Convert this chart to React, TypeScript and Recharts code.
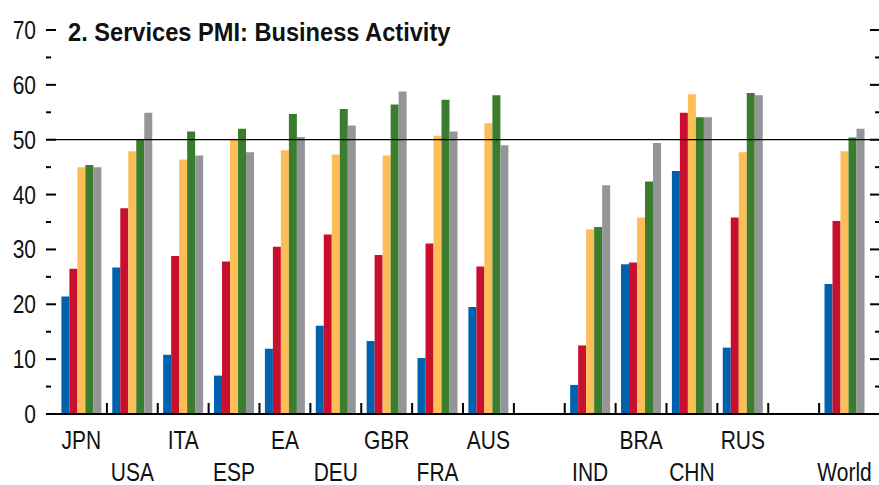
import React from 'react';
import { BarChart, Bar, XAxis, YAxis, ReferenceLine } from 'recharts';

const categories = ['JPN', 'USA', 'ITA', 'ESP', 'EA', 'DEU', 'GBR', 'FRA', 'AUS', 'gap1', 'IND', 'BRA', 'CHN', 'RUS', 'gap2', 'World'];
const tickLabels = ['JPN', 'USA', 'ITA', 'ESP', 'EA', 'DEU', 'GBR', 'FRA', 'AUS', '', 'IND', 'BRA', 'CHN', 'RUS', '', 'World'];
const tickRows = [1, 2, 1, 2, 1, 2, 1, 2, 1, 1, 2, 1, 2, 1, 1, 2];

const series1 = [21.4, 26.7, 10.8, 7.0, 11.9, 16.1, 13.3, 10.2, 19.5, null, 5.3, 27.3, 44.3, 12.1, null, 23.7];
const series2 = [26.5, 37.5, 28.8, 27.8, 30.5, 32.7, 29.0, 31.1, 26.9, null, 12.5, 27.6, 54.9, 35.8, null, 35.2];
const series3 = [45.0, 47.9, 46.4, 50.0, 48.1, 47.3, 47.1, 50.7, 53.0, null, 33.7, 35.8, 58.3, 47.7, null, 47.9];
const series4 = [45.4, 50.0, 51.5, 52.0, 54.7, 55.6, 56.4, 57.3, 58.1, null, 34.1, 42.4, 54.1, 58.5, null, 50.4];
const series5 = [45.0, 54.9, 47.1, 47.7, 50.5, 52.6, 58.8, 51.5, 49.0, null, 41.7, 49.4, 54.1, 58.1, null, 52.0];

const yTicks = [0, 5, 10, 15, 20, 25, 30, 35, 40, 45, 50, 55, 60, 65, 70];
const title = '2. Services PMI: Business Activity';

const colors = ['#0062AE', '#C8102E', '#FDBE57', '#3B7D2E', '#949599'];
const seriesKeys = ['s1', 's2', 's3', 's4', 's5'];
const seriesList = [series1, series2, series3, series4, series5];

const data = categories.map((c, i) => {
  const row: Record<string, any> = { cat: c };
  seriesKeys.forEach((k, j) => { row[k] = seriesList[j][i]; });
  return row;
});

const W = 879;
const H = 485;
const PLOT_LEFT = 46;
const PLOT_RIGHT = 879;
const PAD_L = 10;
const PAD_R = 9;
const AXIS_Y = 414;
const BAND = (PLOT_RIGHT - PLOT_LEFT - PAD_L - PAD_R) / categories.length;
const FONT = "'Liberation Sans', Arial, sans-serif";
const NARROW = 0.84;
const TXT = '#111';

const NarrowText = ({ x, y, anchor, children, size = 25, weight = 'normal', scale = NARROW }: any) => (
  <g transform={`translate(${x},${y}) scale(${scale},1)`}>
    <text x={0} y={0} textAnchor={anchor} fontFamily={FONT} fontSize={size} fontWeight={weight} fill={TXT}>
      {children}
    </text>
  </g>
);

const XTick = (props: any) => {
  const { x, payload, index } = props;
  const i = payload && payload.index != null ? payload.index : index;
  return (
    <g>
      {i > 0 && (
        <line x1={x - BAND / 2} x2={x - BAND / 2} y1={AXIS_Y} y2={AXIS_Y - 11} stroke="#000" strokeWidth={2} />
      )}
      <NarrowText x={x} y={tickRows[i] === 1 ? 449 : 481} anchor="middle">
        {tickLabels[i]}
      </NarrowText>
    </g>
  );
};

const YTick = (props: any) => {
  const { y, payload } = props;
  const v = payload.value;
  const major = v % 10 === 0;
  return (
    <g>
      <line x1={PLOT_LEFT} x2={PLOT_LEFT + (major ? 10 : 5)} y1={y} y2={y} stroke="#000" strokeWidth={2} />
      <line x1={PLOT_RIGHT - (major ? 9 : 4)} x2={PLOT_RIGHT} y1={y} y2={y} stroke="#000" strokeWidth={2} />
      {major && (
        <NarrowText x={36} y={y + 9} anchor="end">
          {v}
        </NarrowText>
      )}
    </g>
  );
};

export default function App() {
  return (
    <div style={{ position: 'absolute', left: 0, top: 0, width: W, height: H, background: '#fff' }}>
      <BarChart
        width={W}
        height={H}
        data={data}
        margin={{ top: 30, right: 0, left: 0, bottom: 0 }}
        barCategoryGap="10.6%"
        barGap={0}
      >
        <XAxis
          dataKey="cat"
          interval={0}
          height={71}
          padding={{ left: PAD_L, right: PAD_R }}
          axisLine={{ stroke: '#000', strokeWidth: 2 }}
          tickLine={false}
          tick={XTick}
        />
        <YAxis
          domain={[0, 70]}
          ticks={yTicks}
          width={PLOT_LEFT}
          axisLine={false}
          tickLine={false}
          tick={YTick}
          interval={0}
        />
        <ReferenceLine y={50} stroke="#000" strokeWidth={1.3} />
        {seriesKeys.map((k, j) => (
          <Bar key={k} dataKey={k} fill={colors[j]} isAnimationActive={false} />
        ))}
      </BarChart>
      <svg width={W} height={60} style={{ position: 'absolute', left: 0, top: 0, pointerEvents: 'none' }}>
        <NarrowText x={68} y={41} anchor="start" weight="bold" scale={0.945}>
          {title}
        </NarrowText>
      </svg>
    </div>
  );
}
